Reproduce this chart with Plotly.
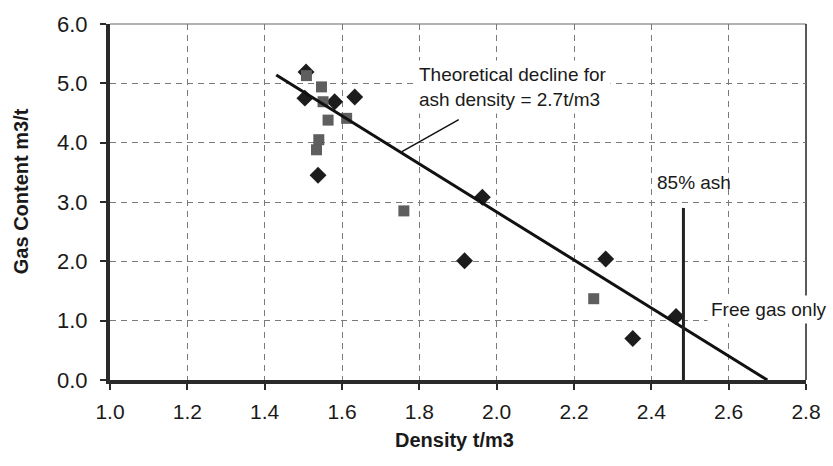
import plotly.graph_objects as go

# Measured data (two sample sets)
diamond_density = [1.507, 1.504, 1.581, 1.633, 1.538, 1.963, 1.917, 2.282, 2.464, 2.352]
diamond_gas = [5.19, 4.75, 4.69, 4.77, 3.45, 3.08, 2.01, 2.04, 1.07, 0.70]

square_density = [1.508, 1.547, 1.551, 1.564, 1.612, 1.540, 1.534, 1.760, 2.251]
square_gas = [5.13, 4.94, 4.69, 4.38, 4.41, 4.05, 3.88, 2.85, 1.37]

# Theoretical decline line (ash density 2.7 t/m3)
theory_density = [1.43, 2.70]
theory_gas = [5.14, 0.0]

# 85% ash marker line
ash85_density = [2.483, 2.483]
ash85_gas = [0.0, 2.9]

x_ticks = [1.0, 1.2, 1.4, 1.6, 1.8, 2.0, 2.2, 2.4, 2.6, 2.8]
y_ticks = [0.0, 1.0, 2.0, 3.0, 4.0, 5.0, 6.0]

FONT = "Arial, 'Liberation Sans', sans-serif"

fig = go.Figure()

fig.add_trace(go.Scatter(
    x=diamond_density, y=diamond_gas, mode="markers",
    marker=dict(symbol="diamond", size=13, color="#1c1c1c", line=dict(width=0)),
    showlegend=False, cliponaxis=False))
fig.add_trace(go.Scatter(
    x=square_density, y=square_gas, mode="markers",
    marker=dict(symbol="square", size=11, color="#5e5e5e", line=dict(width=0)),
    showlegend=False, cliponaxis=False))
fig.add_trace(go.Scatter(
    x=theory_density, y=theory_gas, mode="lines",
    line=dict(color="#111111", width=3), showlegend=False))
fig.add_trace(go.Scatter(
    x=ash85_density, y=ash85_gas, mode="lines",
    line=dict(color="#222222", width=3), showlegend=False))

# top and right thin borders
fig.add_shape(type="line", xref="paper", yref="paper", x0=0, x1=1, y0=1, y1=1,
              line=dict(color="#666666", width=1), layer="below")
fig.add_shape(type="line", xref="paper", yref="paper", x0=1, x1=1, y0=0, y1=1,
              line=dict(color="#222222", width=1.5), layer="below")

# leader line for theoretical annotation
leader_x = [1.755, 1.902]
leader_y = [3.85, 4.39]
fig.add_shape(type="line", x0=leader_x[0], y0=leader_y[0], x1=leader_x[1], y1=leader_y[1],
              line=dict(color="#111111", width=1.5))

fig.add_annotation(x=1.790, y=4.93, xanchor="left", yanchor="middle", align="left",
                   text="Theoretical decline for<br>ash density = 2.7t/m3",
                   showarrow=False, bgcolor="white", borderpad=3,
                   font=dict(family=FONT, size=19, color="#1a1a1a"))
fig.add_annotation(x=2.410, y=3.33, xanchor="left", yanchor="middle",
                   text="85% ash", showarrow=False,
                   font=dict(family=FONT, size=19, color="#1a1a1a"))
fig.add_annotation(x=2.545, y=1.18, xanchor="left", yanchor="middle",
                   text="Free gas only", showarrow=False, bgcolor="white", borderpad=3,
                   font=dict(family=FONT, size=19, color="#1a1a1a"))

# axis titles
fig.add_annotation(xref="paper", yref="paper", x=-0.128, y=0.53, textangle=-90,
                   xanchor="center", yanchor="middle",
                   text="<b>Gas Content m3/t</b>", showarrow=False,
                   font=dict(family=FONT, size=20, color="#1a1a1a"))
fig.add_annotation(xref="paper", yref="paper", x=0.495, y=-0.168,
                   xanchor="center", yanchor="middle",
                   text="<b>Density t/m3</b>", showarrow=False,
                   font=dict(family=FONT, size=20, color="#1a1a1a"))

fig.update_xaxes(range=[1.0, 2.8], tickvals=x_ticks, ticktext=[f"{v:.1f}" for v in x_ticks],
                 showgrid=True, gridcolor="#7a7a7a", gridwidth=1, griddash="6px,5px",
                 showline=True, linecolor="#2a2a2a", linewidth=4,
                 ticks="outside", ticklen=6, tickwidth=2, tickcolor="#2a2a2a",
                 ticklabelstandoff=4,
                 zeroline=False, tickfont=dict(family=FONT, size=21, color="#1a1a1a"))
fig.update_yaxes(range=[0, 6.0], tickvals=y_ticks, ticktext=[f"{v:.1f}" for v in y_ticks],
                 showgrid=True, gridcolor="#7a7a7a", gridwidth=1, griddash="6px,5px",
                 showline=True, linecolor="#2a2a2a", linewidth=4,
                 ticks="outside", ticklen=6, tickwidth=2, tickcolor="#2a2a2a",
                 ticklabelstandoff=8,
                 zeroline=False, tickfont=dict(family=FONT, size=22, color="#1a1a1a"))

fig.update_layout(width=833, height=466, margin=dict(l=110, r=26, t=22, b=86),
                  plot_bgcolor="white", paper_bgcolor="white", showlegend=False)

fig.write_html("out.html")
